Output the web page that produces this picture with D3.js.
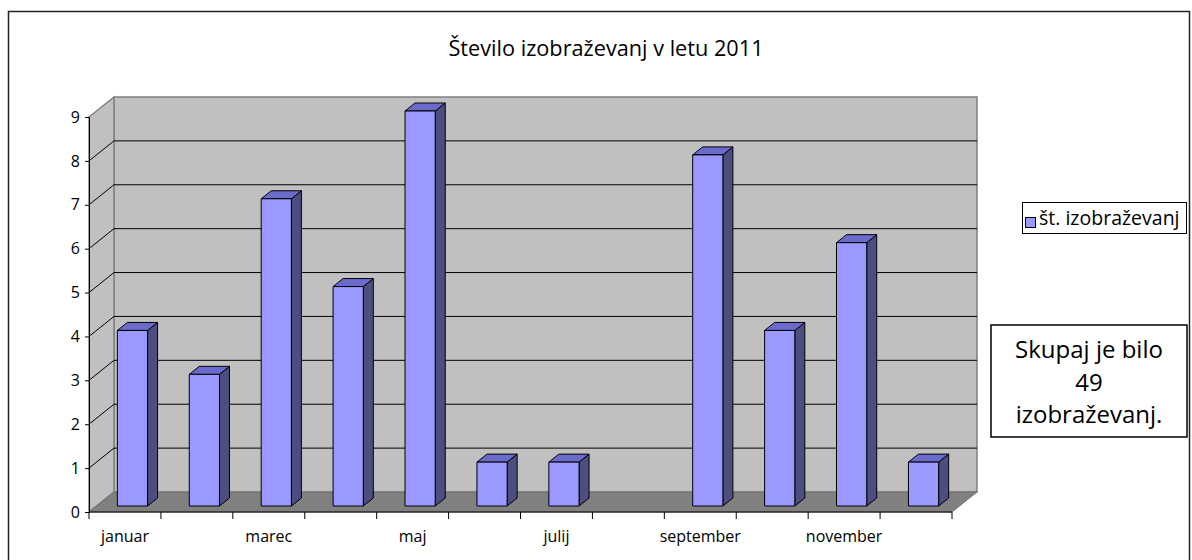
<!DOCTYPE html>
<meta charset="utf-8">
<script src="https://d3js.org/d3.v7.min.js"></script>
<style>
  body { margin: 0; background: #fff; }
  text { font-family: "Open Sans", sans-serif; fill: #000; }
</style>
<svg id="chart" width="1192" height="560"></svg>
<script>

// data
var months = ["januar", "februar", "marec", "april", "maj", "junij", "julij", "avgust", "september", "oktober", "november", "december"];
var counts = [4, 3, 7, 5, 9, 1, 1, 0, 8, 4, 6, 1];
var tickLabels = ["januar", "", "marec", "", "maj", "", "julij", "", "september", "", "november", ""];
var yTicks = [0, 1, 2, 3, 4, 5, 6, 7, 8, 9];
var chartTitle = "Število izobraževanj v letu 2011";
var seriesName = "št. izobraževanj";
var noteLines = ["Skupaj je bilo", String(d3.sum(counts)), "izobraževanj."];

var svg = d3.select("#chart");

// outer chart frame
svg.append("rect")
  .attr("x", 8.5).attr("y", 11.5)
  .attr("width", 1181).attr("height", 600)
  .attr("fill", "#fff")
  .attr("stroke", "#222").attr("stroke-width", 1.5);

// 3d plot geometry
var left = 89, right = 952;
var depthX = 25, depthY = 20;

var x = d3.scaleBand().domain(months).range([left, right]).padding(0);
var y = d3.scaleLinear().domain([0, 9]).range([512, 117]);

function proj(px, v, d) { return [px + depthX * d, y(v) - depthY * d]; }
function poly(pts) { return "M" + pts.map(function(p){ return p.join(","); }).join("L") + "Z"; }

var walls = svg.append("g");

// back wall
walls.append("path")
  .attr("d", poly([proj(left, 0, 1), proj(right, 0, 1), proj(right, 9, 1), proj(left, 9, 1)]))
  .attr("fill", "#c0c0c0").attr("stroke", "#808080").attr("stroke-width", 1.5);

// side wall
walls.append("path")
  .attr("d", poly([proj(left, 0, 0), proj(left, 0, 1), proj(left, 9, 1), proj(left, 9, 0)]))
  .attr("fill", "#c0c0c0").attr("stroke", "#808080").attr("stroke-width", 1.5);

// floor
walls.append("path")
  .attr("d", poly([proj(left, 0, 0), proj(right, 0, 0), proj(right, 0, 1), proj(left, 0, 1)]))
  .attr("fill", "#808080").attr("stroke", "#707070").attr("stroke-width", 1);

// gridlines (back wall + side wall)
var grid = svg.append("g").attr("stroke", "#000").attr("stroke-width", 1).attr("fill", "none");
yTicks.filter(function(v){ return v > 0 && v < 9; }).forEach(function(v) {
  var a = proj(left, v, 0), b = proj(left, v, 1), c = proj(right, v, 1);
  grid.append("path").attr("d", "M" + a + "L" + b + "L" + c);
});

// bars
var barW = x.bandwidth() * 0.42, d0 = 0.3, d1 = 0.7;
var bars = svg.append("g").attr("stroke", "#000").attr("stroke-width", 1).attr("stroke-linejoin", "round");
months.forEach(function(m, i) {
  var v = counts[i];
  if (v <= 0) return;
  var x0 = x(m) + (x.bandwidth() - barW) / 2, x1 = x0 + barW;
  var g = bars.append("g");
  g.append("path").attr("fill", "#4d4d80")
    .attr("d", poly([proj(x1, 0, d0), proj(x1, 0, d1), proj(x1, v, d1), proj(x1, v, d0)]));
  g.append("path").attr("fill", "#6b6bcc")
    .attr("d", poly([proj(x0, v, d0), proj(x0, v, d1), proj(x1, v, d1), proj(x1, v, d0)]));
  g.append("path").attr("fill", "#9999ff")
    .attr("d", poly([proj(x0, 0, d0), proj(x1, 0, d0), proj(x1, v, d0), proj(x0, v, d0)]));
});

// y axis
var yAxis = svg.append("g")
  .attr("transform", "translate(" + left + ",0)")
  .call(d3.axisLeft(y).tickValues(yTicks).tickSize(4).tickPadding(5).tickFormat(d3.format("d")));
yAxis.select(".domain").attr("stroke", "#000");
yAxis.selectAll("text").style("font-size", "16px").style("font-family", "'Open Sans', sans-serif");

// x axis
var xAxis = svg.append("g");
xAxis.append("line")
  .attr("x1", left).attr("x2", right).attr("y1", y(0)).attr("y2", y(0))
  .attr("stroke", "#000");
xAxis.selectAll("line.tick")
  .data(d3.range(months.length + 1))
  .enter().append("line")
  .attr("class", "tick")
  .attr("x1", function(i){ return left + i * x.bandwidth(); })
  .attr("x2", function(i){ return left + i * x.bandwidth(); })
  .attr("y1", y(0)).attr("y2", y(0) + 7)
  .attr("stroke", "#000");
xAxis.selectAll("text")
  .data(months)
  .enter().append("text")
  .attr("x", function(m){ return x(m) + x.bandwidth() / 2; })
  .attr("y", 542)
  .attr("text-anchor", "middle")
  .style("font-size", "16px")
  .text(function(m, i){ return tickLabels[i]; });

// title
svg.append("text")
  .attr("x", 606).attr("y", 56)
  .attr("text-anchor", "middle")
  .style("font-size", "21.7px")
  .text(chartTitle);

// legend
var legend = svg.append("g");
legend.append("rect")
  .attr("x", 1022.5).attr("y", 202.5).attr("width", 164).attr("height", 31)
  .attr("fill", "#fff").attr("stroke", "#000");
legend.append("rect")
  .attr("x", 1025.5).attr("y", 217.5).attr("width", 10).attr("height", 10)
  .attr("fill", "#9999ff").attr("stroke", "#000");
legend.append("text")
  .attr("x", 1039).attr("y", 225)
  .style("font-size", "19.5px")
  .text(seriesName);

// note box
var note = svg.append("g");
note.append("rect")
  .attr("x", 991).attr("y", 325).attr("width", 196).attr("height", 112)
  .attr("fill", "#fff").attr("stroke", "#000").attr("stroke-width", 1.5);
note.selectAll("text")
  .data(noteLines)
  .enter().append("text")
  .attr("x", 1089)
  .attr("y", function(d, i){ return 358 + i * 32.5; })
  .attr("text-anchor", "middle")
  .style("font-size", "24px")
  .text(function(d){ return d; });

</script>
